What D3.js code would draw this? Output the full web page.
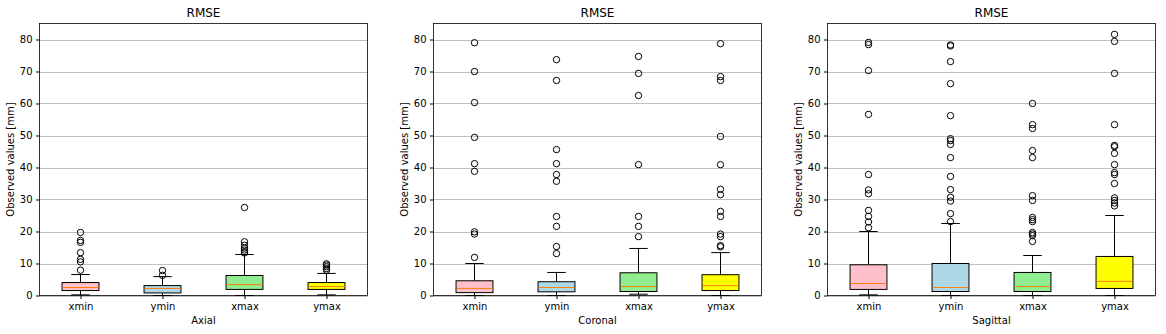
<!DOCTYPE html>
<html>
<head>
<meta charset="utf-8">
<script src="https://cdn.jsdelivr.net/npm/d3@7"></script>
<style>
  body { margin: 0; background: #fff; }
  text { font-family: "DejaVu Sans", sans-serif; fill: #000; }
</style>
</head>
<body>
<div id="container"></div>
<script>
/* CONSTANTS AND GLOBALS */
const width = 1166;
const height = 334;

const categories = ["xmin", "ymin", "xmax", "ymax"];
const boxColors = ["pink", "lightblue", "lightgreen", "yellow"];
const yTicks = [0, 10, 20, 30, 40, 50, 60, 70, 80];
const panelNames = ["Axial", "Coronal", "Sagittal"];

// [whisker low, q1, median, q3, whisker high] for each category
const axialBoxes = [
  [0.2, 1.55, 2.5, 4.05, 6.55],
  [0.0, 0.8, 2.2, 3.1, 5.9],
  [0.0, 1.9, 3.4, 6.25, 12.8],
  [0.2, 1.9, 2.8, 4.05, 6.9]
];
const axialOutliers = [
  [19.7, 17.2, 16.6, 13.4, 11.3, 10.5, 7.9],
  [7.8, 6.3],
  [27.5, 16.8, 15.7, 14.8, 14.2, 13.6, 13.3],
  [9.9, 9.5, 9.0, 8.4, 7.9]
];

const coronalBoxes = [
  [0.0, 0.9, 2.2, 4.6, 10.0],
  [0.0, 1.15, 2.5, 4.3, 7.2],
  [0.4, 1.25, 2.8, 7.1, 14.7],
  [0.0, 1.55, 3.1, 6.5, 13.4]
];
const coronalOutliers = [
  [79.0, 70.0, 60.3, 49.4, 41.2, 38.8, 19.9, 19.2, 11.9],
  [73.7, 67.2, 45.6, 41.2, 37.8, 35.7, 24.7, 21.6, 15.3, 13.1],
  [74.7, 69.4, 62.5, 40.9, 24.7, 21.6, 18.4],
  [78.7, 68.4, 67.2, 49.7, 40.9, 33.2, 31.5, 26.3, 24.7, 19.2, 18.4, 15.6, 15.2]
];

const sagittalBoxes = [
  [0.2, 1.9, 3.75, 9.6, 20.0],
  [0.0, 1.25, 2.5, 10.0, 22.5],
  [0.0, 1.25, 2.8, 7.2, 12.5],
  [0.0, 2.2, 4.4, 12.2, 25.0]
];
const sagittalOutliers = [
  [79.1, 78.4, 70.3, 56.6, 37.8, 33.0, 31.8, 26.6, 24.7, 23.0, 21.2],
  [78.3, 78.0, 73.1, 66.2, 56.2, 49.0, 48.4, 47.2, 43.1, 37.2, 33.1, 30.7, 29.5, 25.6, 23.1],
  [60.0, 53.4, 52.2, 45.3, 43.1, 31.2, 29.7, 24.4, 23.7, 23.1, 19.7, 19.2, 18.7, 16.9],
  [81.6, 79.4, 69.4, 53.4, 46.9, 46.5, 44.4, 40.9, 38.4, 37.8, 35.0, 30.5, 29.7, 28.9, 28.0]
];

const panels = [
  {name: panelNames[0], boxes: axialBoxes, outliers: axialOutliers, left: 39.5, right: 367.5},
  {name: panelNames[1], boxes: coronalBoxes, outliers: coronalOutliers, left: 433.5, right: 761.5},
  {name: panelNames[2], boxes: sagittalBoxes, outliers: sagittalOutliers, left: 827.5, right: 1155.5}
];
const plotTop = 23.5, plotBottom = 295.5;

const svg = d3.select("#container")
  .append("svg")
  .attr("width", width)
  .attr("height", height);

panels.forEach(p => {
  const xScale = d3.scalePoint()
    .domain(categories)
    .range([p.left, p.right])
    .padding(0.5);

  const yScale = d3.scaleLinear()
    .domain([0, 85])
    .range([plotBottom, plotTop]);

  const boxW = xScale.step() * 0.45;
  const g = svg.append("g");

  // grid
  g.selectAll("line.grid")
    .data(yTicks)
    .join("line")
    .attr("class", "grid")
    .attr("x1", p.left).attr("x2", p.right)
    .attr("y1", d => Math.round(yScale(d)) + 0.5)
    .attr("y2", d => Math.round(yScale(d)) + 0.5)
    .attr("stroke", "#b0b0b0")
    .attr("stroke-width", 0.8);

  // boxes
  const data = categories.map((c, i) => ({cat: c, s: p.boxes[i], out: p.outliers[i], color: boxColors[i]}));
  const grp = g.selectAll("g.box")
    .data(data)
    .join("g")
    .attr("class", "box");

  // whiskers
  grp.append("line")
    .attr("x1", d => xScale(d.cat)).attr("x2", d => xScale(d.cat))
    .attr("y1", d => yScale(d.s[0])).attr("y2", d => yScale(d.s[1]))
    .attr("stroke", "#000");
  grp.append("line")
    .attr("x1", d => xScale(d.cat)).attr("x2", d => xScale(d.cat))
    .attr("y1", d => yScale(d.s[3])).attr("y2", d => yScale(d.s[4]))
    .attr("stroke", "#000");
  // caps
  [0, 4].forEach(k => {
    grp.append("line")
      .attr("x1", d => xScale(d.cat) - boxW / 4).attr("x2", d => xScale(d.cat) + boxW / 4)
      .attr("y1", d => yScale(d.s[k])).attr("y2", d => yScale(d.s[k]))
      .attr("stroke", "#000");
  });
  grp.append("rect")
    .attr("x", d => xScale(d.cat) - boxW / 2)
    .attr("width", boxW)
    .attr("y", d => yScale(d.s[3]))
    .attr("height", d => yScale(d.s[1]) - yScale(d.s[3]))
    .attr("fill", d => d.color)
    .attr("stroke", "#000");
  grp.append("line")
    .attr("x1", d => xScale(d.cat) - boxW / 2 + 0.5).attr("x2", d => xScale(d.cat) + boxW / 2 - 0.5)
    .attr("y1", d => yScale(d.s[2])).attr("y2", d => yScale(d.s[2]))
    .attr("stroke", "#ff7f0e");

  // outliers
  grp.selectAll("circle")
    .data(d => d.out.map(v => ({cat: d.cat, v})))
    .join("circle")
    .attr("cx", d => xScale(d.cat))
    .attr("cy", d => yScale(d.v))
    .attr("r", 3.2)
    .attr("fill", "none")
    .attr("stroke", "#000");

  // axes
  const yAxis = d3.axisLeft(yScale).tickValues(yTicks).tickSize(3.5).tickPadding(3.5);
  const xAxis = d3.axisBottom(xScale).tickSize(3.5).tickPadding(3.5);

  g.append("g")
    .attr("transform", `translate(${p.left},0)`)
    .call(yAxis)
    .call(s => s.select(".domain").remove())
    .call(s => s.selectAll("text").attr("font-size", 10).style("font-family", "DejaVu Sans"));
  g.append("g")
    .attr("transform", `translate(0,${plotBottom})`)
    .call(xAxis)
    .call(s => s.select(".domain").remove())
    .call(s => s.selectAll("text").attr("font-size", 10).style("font-family", "DejaVu Sans"));

  // frame
  g.append("rect")
    .attr("x", p.left).attr("y", plotTop)
    .attr("width", p.right - p.left).attr("height", plotBottom - plotTop)
    .attr("fill", "none")
    .attr("stroke", "#000")
    .attr("stroke-width", 0.8);

  // labels
  g.append("text")
    .attr("x", (p.left + p.right) / 2).attr("y", 17)
    .attr("text-anchor", "middle")
    .attr("font-size", 12)
    .text("RMSE");
  g.append("text")
    .attr("x", (p.left + p.right) / 2).attr("y", 324)
    .attr("text-anchor", "middle")
    .attr("font-size", 10)
    .text(p.name);
  g.append("text")
    .attr("transform", `translate(${p.left - 25.5},${(plotTop + plotBottom) / 2}) rotate(-90)`)
    .attr("text-anchor", "middle")
    .attr("font-size", 10)
    .text("Observed values [mm]");
});
</script>
</body>
</html>
